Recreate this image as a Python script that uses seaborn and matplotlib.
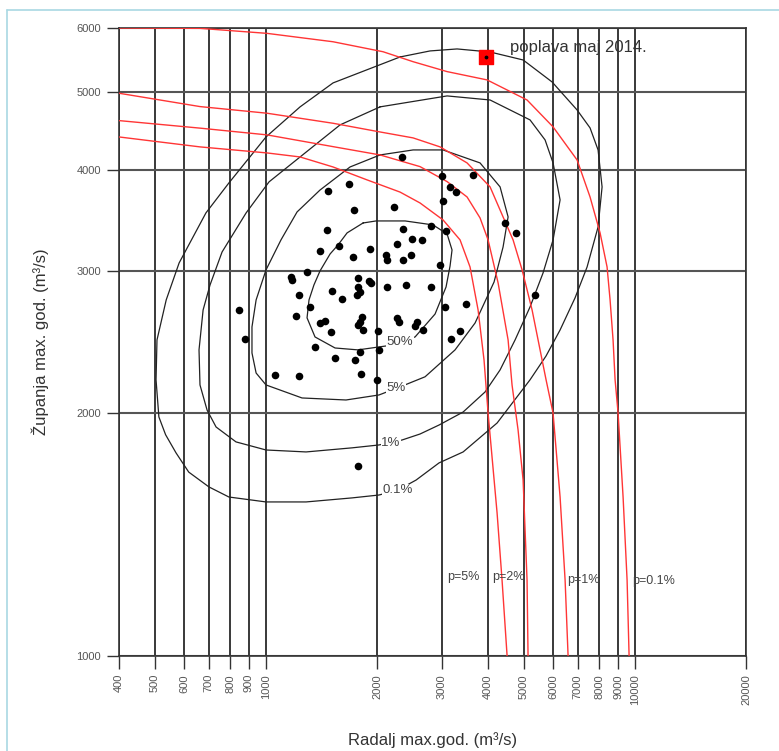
import numpy as np
import pandas as pd
import matplotlib
matplotlib.use("Agg")
import matplotlib.pyplot as plt
import seaborn as sns
from matplotlib.lines import Line2D

# annual maxima, m3/s
radalj = [2335, 2996, 3649, 3156, 3276, 3026, 1471, 1684, 1734, 2230,
          4449, 4765, 2803, 3072, 2358, 1468, 2485, 2655, 2267, 1582,
          1398, 1919, 2117, 2130, 2467, 2358, 1720, 2970, 5365, 1291,
          1170, 1178, 1781, 1898, 1924, 1781, 1800, 1763, 2126, 2399,
          2794, 1227, 1509, 1606, 1317, 3053, 3483, 845, 1204, 1819,
          1800, 1781, 2260, 2296, 1402, 1442, 2564, 2537, 2667, 1502,
          1837, 2018, 3359, 3181, 877, 1359, 1800, 2029, 1540, 1745,
          1060, 1227, 1806, 2005, 1778]
zupanja = [4157, 3937, 3939, 3816, 3762, 3666, 3773, 3840, 3565, 3604,
           3437, 3341, 3411, 3365, 3385, 3372, 3282, 3273, 3236, 3222,
           3179, 3192, 3140, 3095, 3136, 3091, 3125, 3049, 2802, 2990,
           2951, 2924, 2943, 2916, 2897, 2869, 2826, 2802, 2862, 2880,
           2862, 2802, 2832, 2768, 2710, 2710, 2728, 2684, 2636, 2629,
           2596, 2571, 2620, 2596, 2586, 2603, 2596, 2562, 2535, 2521,
           2537, 2531, 2529, 2469, 2473, 2418, 2383, 2394, 2337, 2327,
           2229, 2224, 2236, 2200, 1720]

flood_2014 = (3951, 5524)

# joint density contours
c50_x = [1834, 1989, 2384, 2838, 3098, 3195, 3156, 3078, 2874, 2537, 2117,
         1777, 1540, 1359, 1293, 1309, 1350, 1402, 1493, 1569, 1660, 1834]
c50_y = [3440, 3460, 3460, 3421, 3334, 3185, 3043, 2866, 2653, 2485, 2422,
         2395, 2408, 2485, 2624, 2762, 2883, 3000, 3149, 3231, 3344, 3440]
c5_x = [2039, 2506, 3021, 3805, 4312, 4533, 4393, 4153, 3689, 3256, 2700,
        2310, 2026, 1649, 1253, 1001, 941, 917, 917, 941, 1001, 1099, 1215,
        1402, 1691, 2039]
c5_y = [4177, 4237, 4237, 4083, 3813, 3500, 3212, 2907, 2586, 2395, 2218,
        2155, 2106, 2076, 2088, 2167, 2242, 2374, 2557, 2762, 3009, 3278, 3550,
        3779, 4036, 4177]
c1_x = [2039, 3098, 4051, 5198, 5709, 6001, 6270, 6001, 5638, 5198, 4735,
        4312, 3926, 3424, 2947, 2617, 2339, 2026, 1712, 1285, 1001, 830, 733,
        693, 663, 659, 676, 706, 761, 884, 1020, 1238, 1589, 2039]
c1_y = [4791, 4943, 4886, 4616, 4360, 4083, 3674, 3278, 2983, 2707, 2464,
        2262, 2124, 2006, 1933, 1884, 1852, 1826, 1811, 1790, 1800, 1842, 1922,
        2017, 2167, 2395, 2684, 2883, 3167, 3540, 3868, 4153, 4551, 4791]
c01_x = [2310, 2786, 3297, 4051, 4978, 5964, 6971, 7559, 7947, 8148, 7947,
         7420, 6883, 6270, 5745, 5198, 4232, 3424, 2947, 2553, 2281, 2026,
         1712, 1285, 1001, 794, 701, 618, 571, 535, 513, 504, 507, 537, 582,
         688, 794, 1001, 1238, 1521, 2310]
c01_y = [5524, 5620, 5652, 5603, 5477, 5144, 4749, 4512, 4237, 3813, 3401,
         3034, 2778, 2535, 2354, 2199, 1944, 1790, 1735, 1652, 1606, 1583,
         1570, 1552, 1552, 1574, 1620, 1690, 1785, 1880, 1978, 2199, 2464,
         2762, 3069, 3540, 3856, 4397, 4791, 5130, 5524]

# joint exceedance curves
p01_x = [400, 663, 1007, 1521, 2078, 2506, 3098, 3976, 5102, 6001, 6971,
         7559, 8047, 8406, 8565, 8726, 8837, 9004, 9289, 9524, 9644]
p01_y = [6000, 5994, 5909, 5769, 5607, 5450, 5298, 5174, 4886, 4525, 4118,
         3705, 3344, 3034, 2762, 2464, 2199, 2000, 1574, 1242, 1000]
p1_x = [400, 663, 1007, 1521, 2039, 2506, 2965, 3509, 4051, 4393, 4676,
        4947, 5265, 5534, 5745, 6001, 6270, 6469, 6591]
p1_y = [4981, 4795, 4705, 4572, 4460, 4385, 4274, 4083, 3813, 3500, 3278,
        3009, 2684, 2395, 2199, 2000, 1574, 1242, 1000]
p2_x = [400, 663, 1007, 1521, 2039, 2617, 3098, 3509, 3805, 4001, 4259,
        4533, 4646, 4824, 4978, 5102, 5134]
p2_y = [4607, 4509, 4423, 4277, 4177, 4040, 3871, 3705, 3490, 3278, 2899,
        2464, 2167, 1906, 1652, 1242, 1000]
p5_x = [400, 663, 1007, 1238, 1521, 1880, 2310, 2617, 3021, 3359, 3575,
        3759, 3901, 4001, 4232, 4365, 4505]
p5_y = [4397, 4274, 4201, 4153, 4036, 3890, 3757, 3642, 3470, 3278, 3034,
        2684, 2327, 2000, 1504, 1242, 1000]

x_ticks = [400, 500, 600, 700, 800, 900, 1000, 2000, 3000, 4000, 5000,
           6000, 7000, 8000, 9000, 10000, 20000]
y_ticks = [1000, 2000, 3000, 4000, 5000, 6000]

sns.set_style("white")
plt.rcParams["font.family"] = ["Liberation Sans", "DejaVu Sans"]

fig = plt.figure(figsize=(7.79, 7.51), dpi=100)
ax = fig.add_axes([119 / 779, 1 - 656 / 751, 627 / 779, 628 / 751])
ax.set_xscale("log")
ax.set_yscale("log")

for xv in x_ticks:
    ax.axvline(xv, color="#2a2a2a", lw=1.3, zorder=0)
for yv in y_ticks:
    ax.axhline(yv, color="#555555", lw=1.5, zorder=0)

contours = [(c50_x, c50_y), (c5_x, c5_y), (c1_x, c1_y), (c01_x, c01_y)]
for cx, cy in contours:
    sns.lineplot(x=cx, y=cy, sort=False, estimator=None, color="#222222",
                 lw=0.9, ax=ax, zorder=2, solid_joinstyle="round")

curves = [(p01_x, p01_y), (p1_x, p1_y), (p2_x, p2_y), (p5_x, p5_y)]
for px, py in curves:
    sns.lineplot(x=px, y=py, sort=False, estimator=None, color="#ff3535",
                 lw=1.0, ax=ax, zorder=3, solid_joinstyle="round")

sns.scatterplot(x=radalj, y=zupanja, color="black", s=30, linewidth=0,
                ax=ax, zorder=4)
ax.scatter([flood_2014[0]], [flood_2014[1]], marker="s", s=95,
           color="#ff0000", zorder=5)
ax.scatter([flood_2014[0]], [flood_2014[1]], s=3, color="black", zorder=6)
ax.text(4589, 5668, "poplava maj 2014.", fontsize=12, color="#333333",
        va="center", ha="left")

lab_kw = dict(fontsize=9.5, color="#444444", ha="center", va="center",
              zorder=3, bbox=dict(facecolor="white", edgecolor="none", pad=0.3))
ax.text(2310, 2450, "50%", **lab_kw)
ax.text(2253, 2150, "5%", **lab_kw)
ax.text(2184, 1834, "1%", **lab_kw)
ax.text(2281, 1606, "0.1%", **lab_kw)

p_kw = dict(fontsize=9, color="#444444", ha="left", va="center", zorder=6)
ax.text(3098, 1253, "p=5%", **p_kw)
ax.text(4101, 1253, "p=2%", **p_kw)
ax.text(6550, 1242, "p=1%", **p_kw)
ax.text(9825, 1239, "p=0.1%", **p_kw)

ax.set_xlim(400, 20000)
ax.set_ylim(1000, 6000)
ax.set_xticks(x_ticks)
ax.set_xticklabels([str(v) for v in x_ticks], rotation=90)
ax.set_xticks([], minor=True)
ax.set_yticks(y_ticks)
ax.set_yticklabels([str(v) for v in y_ticks])
ax.set_yticks([], minor=True)
ax.tick_params(axis="both", which="major", direction="out", length=9,
               width=1, color="#333333", labelsize=8, labelcolor="#555555",
               bottom=True, left=True, pad=4)
for sp in ax.spines.values():
    sp.set_color("#333333")
    sp.set_linewidth(1.2)

ax.set_xlabel("Radalj max.god. (m³/s)", fontsize=12, color="#333333",
              labelpad=20)
ax.set_ylabel("Županja max. god. (m³/s)", fontsize=12, color="#333333",
              labelpad=20)

# light blue frame of the page
fig.add_artist(Line2D([7 / 779, 7 / 779], [0, 1 - 10 / 751],
                      transform=fig.transFigure, color="#a9d8e3", lw=1.2))
fig.add_artist(Line2D([7 / 779, 1], [1 - 10 / 751, 1 - 10 / 751],
                      transform=fig.transFigure, color="#a9d8e3", lw=1.2))

fig.savefig("out.png", dpi=100, facecolor="white")
